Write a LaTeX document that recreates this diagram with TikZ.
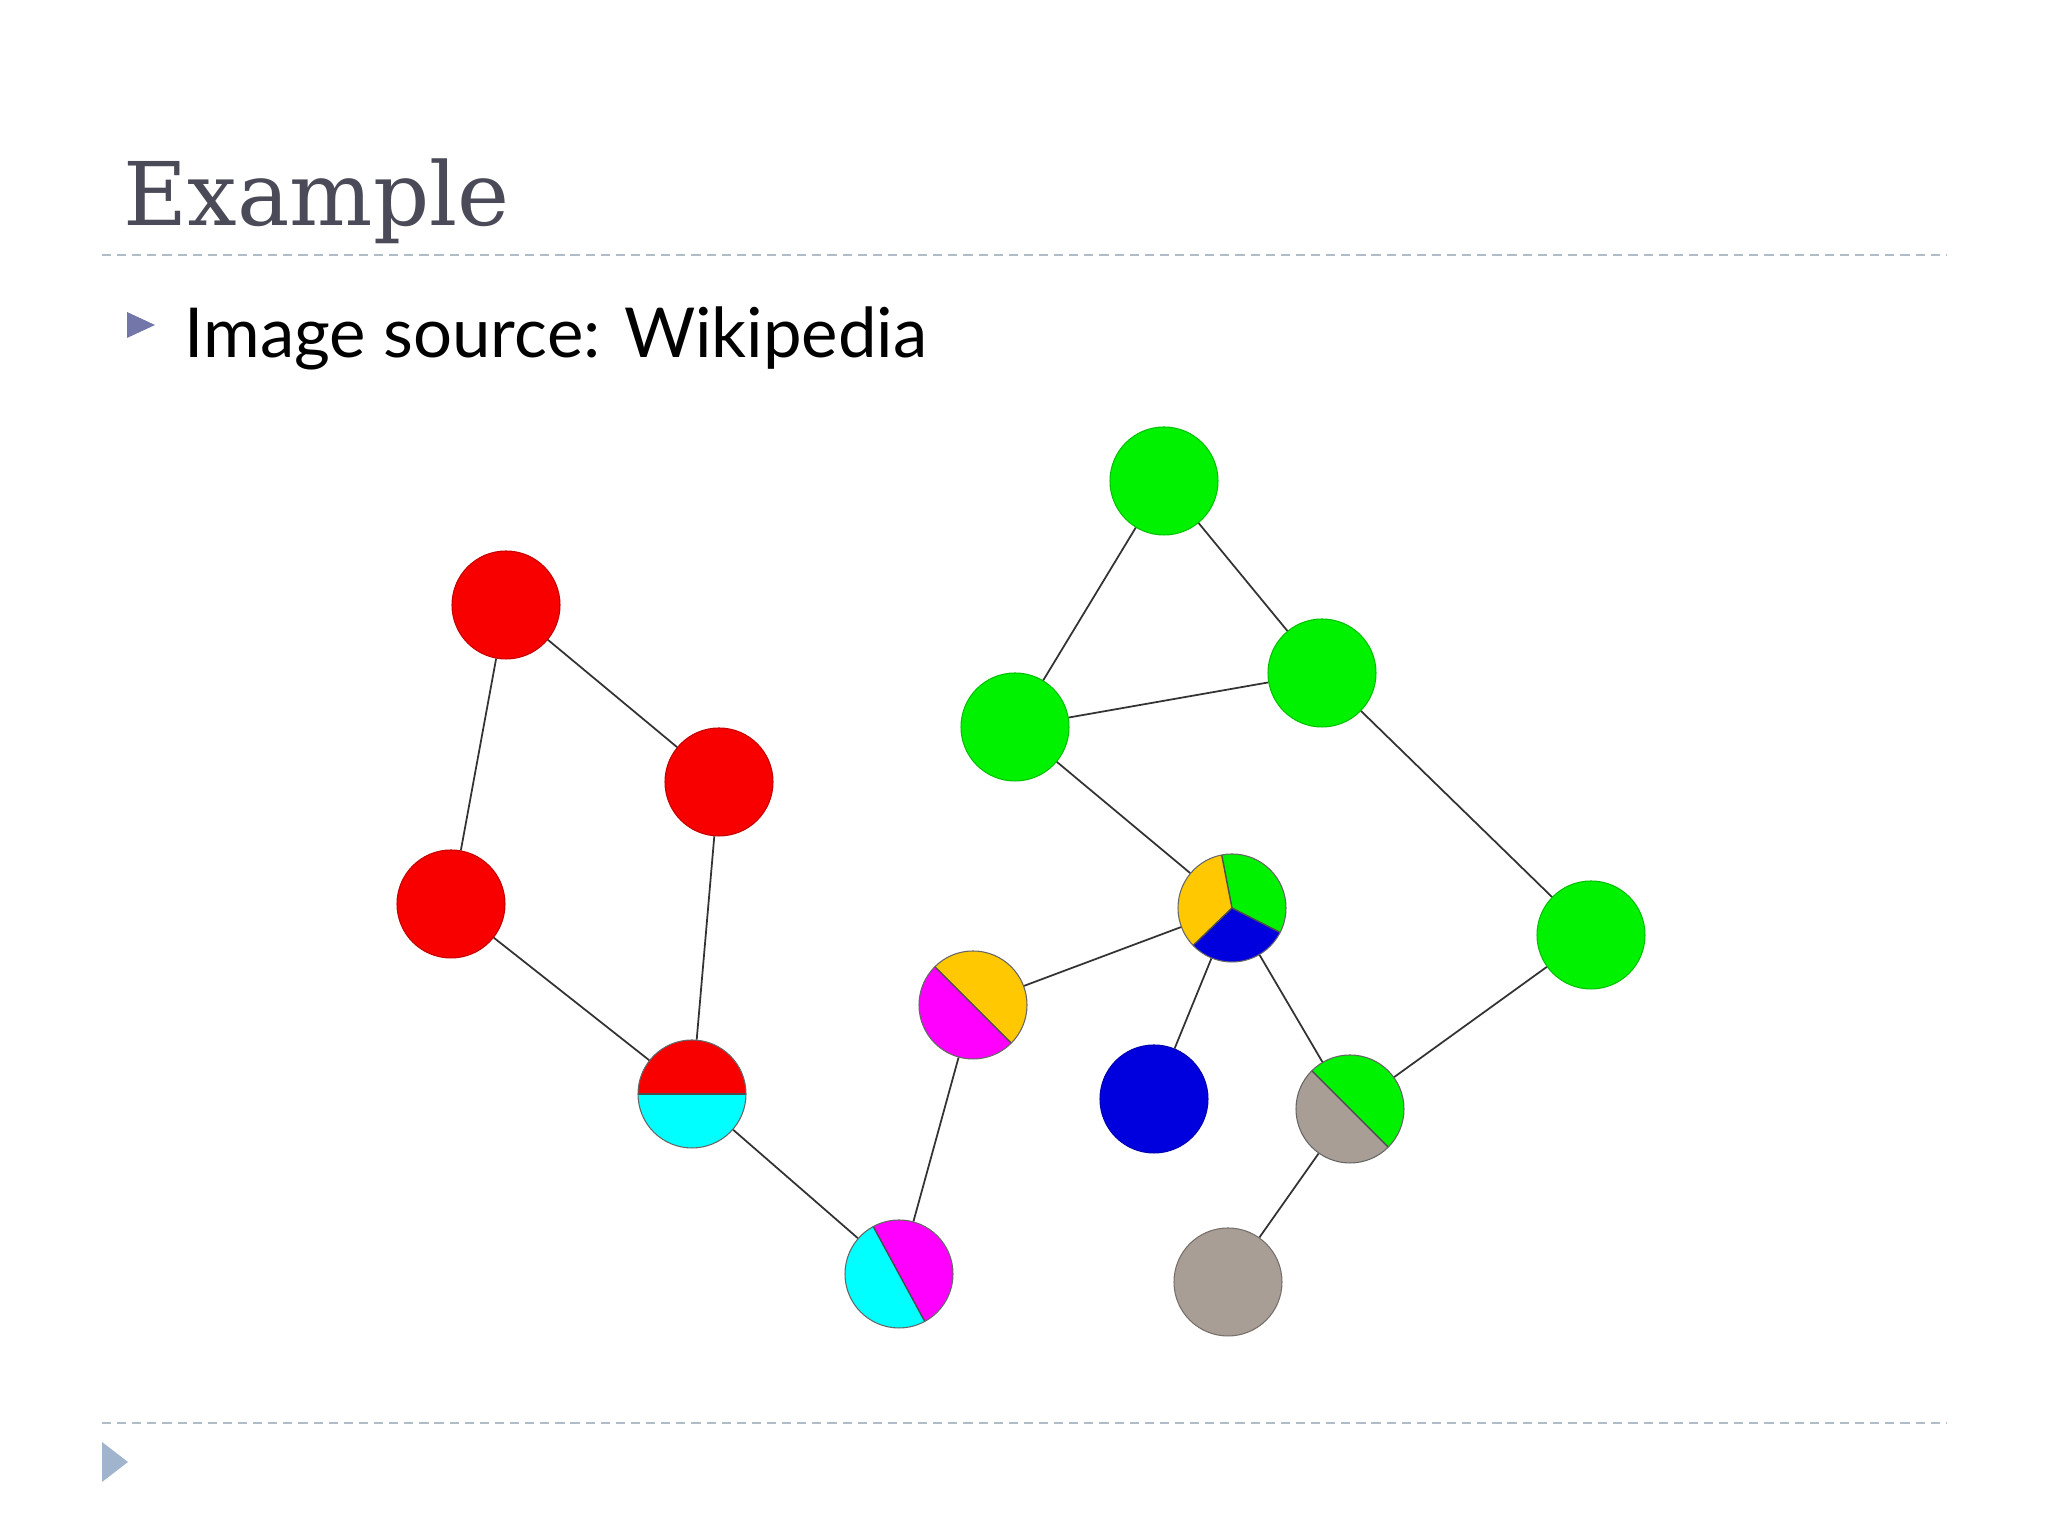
\documentclass[tikz,border=0pt]{standalone}
\usepackage{fontspec}
\usepackage{tikz}
\usetikzlibrary{positioning}
\newfontfamily\titlefont{DejaVu Serif}
\newfontfamily\bodyfont{Lato}
\definecolor{myRed}{RGB}{248,0,0}
\definecolor{myGreen}{RGB}{0,242,0}
\definecolor{myBlue}{RGB}{0,0,222}
\definecolor{myCyan}{RGB}{0,255,255}
\definecolor{myMagenta}{RGB}{255,0,255}
\definecolor{myYellow}{RGB}{255,200,0}
\definecolor{myGray}{RGB}{168,158,150}
\definecolor{titleGray}{RGB}{74,74,88}
\definecolor{ruleBlue}{RGB}{176,188,200}
\definecolor{bulletBlue}{RGB}{114,118,168}
\definecolor{cornerBlue}{RGB}{160,180,206}
\tikzset{
  vertex/.style={circle, minimum size=1.08cm, inner sep=0pt, draw=black!60, line width=0.3pt},
  filled/.style={vertex, fill=#1, draw=#1!80!black},
  halves/.style n args={3}{vertex, fill=#2, path picture={
      \fill[#3] (path picture bounding box.center) ++(#1:1) -- ++(#1+90:1) -- ++(#1+180:2) -- ++(#1-90:1) -- cycle;
      \draw[black!70, line width=0.4pt] (path picture bounding box.center) ++(#1:1) -- ++(#1+180:2);}},
  threeway/.style={vertex, fill=myYellow, path picture={
      \fill[myGreen] (path picture bounding box.center) -- ++(-27:1) arc[start angle=-27, end angle=101, radius=1] -- cycle;
      \fill[myBlue] (path picture bounding box.center) -- ++(-136:1) arc[start angle=-136, end angle=-27, radius=1] -- cycle;
      \foreach \a in {101,-27,-136} \draw[black!70, line width=0.4pt] (path picture bounding box.center) -- ++(\a:1);}},
  link/.style={draw=black!80, line width=0.5pt},
  rule/.style={draw=ruleBlue, line width=0.7pt, dash pattern=on 2.6pt off 1.7pt}
}
\begin{document}
\begin{tikzpicture}
			\useasboundingbox (0,0) rectangle (20.48,15.36);
			% Slide title and rules
			\node[anchor=base west, inner sep=0pt, text=titleGray] (title) at (1.23,13.10) {\titlefont\fontsize{25}{30}\selectfont Example};
			\draw[rule] (1.02,12.81) -- (19.46,12.81);
			\draw[rule] (1.02,1.13) -- (19.46,1.13);
			% Bullet line
			\fill[bulletBlue] (1.27,12.24) -- (1.27,11.98) -- (1.55,12.11) -- cycle;
			\node[anchor=base west, inner sep=0pt] (source) at (1.84,11.78) {\bodyfont\fontsize{19.6}{24}\selectfont Image source: Wikipedia};
			% Corner mark
			\fill[cornerBlue] (1.02,0.94) -- (1.02,0.54) -- (1.28,0.74) -- cycle;
			% Red part
			\node[filled=myRed] (r1) at (5.06,9.31) {};
			\node[filled=myRed] (r2) at (7.19,7.54) {};
			\node[filled=myRed] (r3) at (4.51,6.32) {};
			\node[halves={0}{myCyan}{myRed}] (rc) at (6.92,4.42) {};
			% Middle
			\node[halves={-61.5}{myCyan}{myMagenta}] (cm) at (8.99,2.62) {};
			\node[halves={-45}{myMagenta}{myYellow}] (ym) at (9.73,5.31) {};
			\node[threeway] (tri) at (12.32,6.28) {};
			\node[filled=myBlue] (bl) at (11.54,4.37) {};
			% Green part
			\node[filled=myGreen] (g1) at (11.64,10.55) {};
			\node[filled=myGreen] (g2) at (13.22,8.63) {};
			\node[filled=myGreen] (g3) at (10.15,8.09) {};
			\node[filled=myGreen] (g4) at (15.91,6.01) {};
			\node[halves={-45}{myGray}{myGreen}] (gg) at (13.50,4.27) {};
			\node[vertex, fill=myGray, draw=myGray!70!black] (gy) at (12.28,2.54) {};
			% Edges
			\draw[link] (r1) -- (r2);
			\draw[link] (r1) -- (r3);
			\draw[link] (r3) -- (rc);
			\draw[link] (r2) -- (rc);
			\draw[link] (rc) -- (cm);
			\draw[link] (cm) -- (ym);
			\draw[link] (ym) -- (tri);
			\draw[link] (tri) -- (g3);
			\draw[link] (g3) -- (g1);
			\draw[link] (g1) -- (g2);
			\draw[link] (g3) -- (g2);
			\draw[link] (g2) -- (g4);
			\draw[link] (g4) -- (gg);
			\draw[link] (tri) -- (gg);
			\draw[link] (tri) -- (bl);
			\draw[link] (gg) -- (gy);
		\end{tikzpicture}
\end{document}
